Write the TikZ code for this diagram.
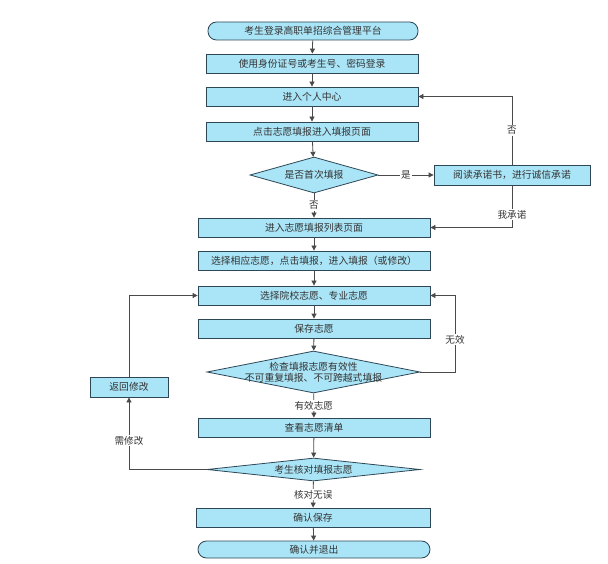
\documentclass[tikz,border=0pt]{standalone}
\usepackage{fontspec}
\setmainfont{Noto Sans CJK SC}
\usetikzlibrary{arrows.meta,shapes.geometric}

\definecolor{boxfill}{HTML}{AAE5F7}
\definecolor{boxline}{HTML}{2E4756}
\definecolor{flowline}{HTML}{4A4A4A}
\definecolor{txt}{HTML}{333333}

\tikzset{
  base/.style={draw=boxline, fill=boxfill, line width=0.8pt, inner sep=0pt, text=txt,
               font=\fontsize{9.8}{11.5}\selectfont},
  stepbox/.style={base, rectangle, minimum height=19pt},
  term/.style={base, rectangle, rounded corners=8.5pt, minimum height=18pt},
  decision/.style={base, diamond},
  flow/.style={draw=flowline, line width=0.8pt, -{Triangle[length=5pt,width=5pt]}},
  lbl/.style={fill=white, inner sep=1pt, text=txt, font=\fontsize{9.6}{11}\selectfont}
}

\begin{document}
\begin{tikzpicture}[x=1pt,y=-1pt]
  \useasboundingbox[fill=white] (0,0) rectangle (608,564);

  \node[term, minimum width=210pt]    (start)   at (313,  31)   {考生登录高职单招综合管理平台};
  \node[stepbox, minimum width=212pt] (login)   at (312,  63.5) {使用身份证号或考生号、密码登录};
  \node[stepbox, minimum width=212pt] (center)  at (312,  96.5) {进入个人中心};
  \node[stepbox, minimum width=212pt] (fill)    at (312, 131.5) {点击志愿填报进入填报页面};
  \node[decision, minimum width=128pt, minimum height=36pt, label={[text=txt, font=\fontsize{9.8}{11.5}\selectfont]center:是否首次填报}] (first) at (314, 175) {};
  \node[stepbox, minimum width=156pt, minimum height=20pt] (promise) at (512, 175) {阅读承诺书，进行诚信承诺};
  \node[stepbox, minimum width=232pt] (list)    at (314, 227.5) {进入志愿填报列表页面};
  \node[stepbox, minimum width=232pt] (select)  at (314, 260.5) {选择相应志愿，点击填报，进入填报（或修改）};
  \node[stepbox, minimum width=232pt] (choose)  at (314, 295.5) {选择院校志愿、专业志愿};
  \node[stepbox, minimum width=232pt] (save)    at (314, 328.5) {保存志愿};
  \node[decision, minimum width=213pt, minimum height=42pt, label={[align=center, text=txt, font=\fontsize{9.8}{11}\selectfont]center:检查填报志愿有效性\\不可重复填报、不可跨越式填报}] (check) at (313.5, 372) {};
  \node[stepbox, minimum width=232pt] (view)    at (314, 427.5) {查看志愿清单};
  \node[decision, minimum width=213pt, minimum height=23pt, label={[text=txt, font=\fontsize{9.8}{11.5}\selectfont]center:考生核对填报志愿}] (verify) at (313.5, 469.5) {};
  \node[stepbox, minimum width=234pt] (confirm) at (313, 517.5) {确认保存};
  \node[term, minimum width=232pt, minimum height=17pt] (stop) at (314, 549.5) {确认并退出};
  \node[stepbox, minimum width=78pt, minimum height=20pt] (back) at (129, 387) {返回修改};

  \coordinate (rloop) at (455, 295.5);

  \def\straight {start/login, login/center, center/fill, fill/first, list/select, select/choose, choose/save, save/check, view/verify, confirm/stop}  % plain arrows
  \foreach \u/\v in \straight
  {	\draw[flow] (\u) -- (\v);
  }
  \def\labelled {first/list/否, check/view/有效志愿, verify/confirm/核对无误, first/promise/是}  % label on the edge
  \foreach \u/\v/\txt in \labelled
  {	\draw[flow] (\u) -- node[lbl] {\txt} (\v);
  }
  \draw[flow] (promise.north) |- node[lbl, pos=0.25] {否} (center.east);
  \draw[flow] (promise.south) |- node[lbl, pos=0.35] {我承诺} (list.east);
  \draw[flow] (check.east) -| node[lbl, pos=0.71] {无效} (rloop) -- (choose.east);
  \draw[flow] (verify.west) -| node[lbl, pos=0.7] {需修改} (back.south);
  \draw[flow] (back.north) |- (choose.west);
\end{tikzpicture}
\end{document}
